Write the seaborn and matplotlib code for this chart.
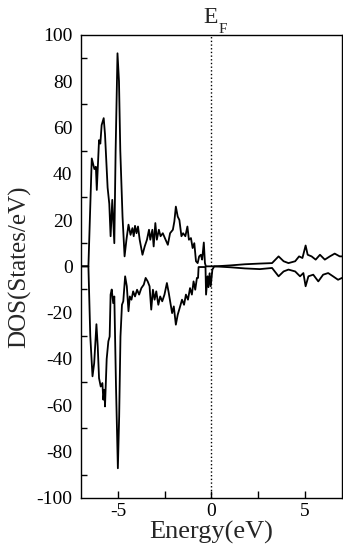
import matplotlib
matplotlib.use("Agg")
import matplotlib.pyplot as plt
import numpy as np
import seaborn as sns
from matplotlib.ticker import MultipleLocator

# spin-up DOS (energy in eV, states/eV)
up_energy = [-7.0, -6.6, -6.42, -6.28, -6.2, -6.15, -6.03, -5.96, -5.89, -5.78, -5.71, -5.57,
             -5.48, -5.41, -5.32, -5.21, -5.14, -5.04, -4.96, -4.89, -4.77, -4.66, -4.56, -4.45,
             -4.34, -4.24, -4.17, -4.1, -4.02, -3.94, -3.85, -3.7, -3.58, -3.46, -3.35, -3.28,
             -3.17, -3.1, -3.01, -2.93, -2.82, -2.73, -2.61, -2.46, -2.34, -2.22, -2.07, -1.99,
             -1.91, -1.81, -1.72, -1.61, -1.52, -1.4, -1.29, -1.21, -1.1, -1.01, -0.92, -0.83,
             -0.74, -0.66, -0.57, -0.5, -0.41, -0.35, -0.3, 0.2, 1.0, 1.8, 2.6, 3.25, 3.6,
             3.87, 4.13, 4.49, 4.7, 4.88, 5.05, 5.16, 5.37, 5.59, 5.82, 6.08, 6.35, 6.61, 6.88, 7.0]
up_dos = [0, 0, 46.6, 42, 43, 33, 54.5, 53, 61, 64, 57, 34,
          27, 13, 28.7, 10, 50, 92, 80, 50, 21.5, 4.3, 11.5, 18,
          13.6, 16.5, 13, 17.5, 14.3, 17.2, 11.5, 5, 8.6, 11.5, 15.8, 11.5,
          15.8, 8.6, 18.7, 11.5, 15.8, 13, 14.3, 11.5, 9.3, 14.3, 15.8, 19.4,
          25.8, 21.5, 20, 13, 14.3, 13, 17.2, 11.5, 12.2, 7.9, 10, 2.2,
          1.4, 4.3, 5, 2.9, 10.3, 1.4, 0, 0, 0.4, 0.9, 1.2, 1.4, 4.3,
          2.2, 1.4, 2.2, 4.3, 3.6, 9, 5, 4.3, 2.9, 5, 2.9, 4.3, 5.5, 4.3, 4.3]

# spin-down DOS
down_energy = [-7.0, -6.6, -6.5, -6.38, -6.29, -6.17, -6.1, -6.03, -5.94, -5.85, -5.8, -5.74,
               -5.71, -5.62, -5.53, -5.46, -5.41, -5.35, -5.27, -5.21, -5.12, -5.02, -4.95,
               -4.88, -4.8, -4.73, -4.63, -4.54, -4.45, -4.38, -4.29, -4.2, -4.1, -3.99, -3.88,
               -3.76, -3.63, -3.53, -3.42, -3.32, -3.23, -3.14, -3.05, -2.96, -2.85, -2.75,
               -2.64, -2.52, -2.39, -2.29, -2.2, -2.11, -2.02, -1.91, -1.81, -1.68, -1.58,
               -1.47, -1.37, -1.26, -1.15, -1.05, -0.96, -0.87, -0.78, -0.72, -0.69, -0.32,
               -0.29, -0.21, -0.16, -0.1, -0.04, 0.05, 0.15, 1.0, 1.8, 2.6, 3.25, 3.6, 3.87,
               4.13, 4.49, 4.75, 4.93, 5.05, 5.2, 5.46, 5.73, 5.99, 6.26, 6.52, 6.79, 7.0]
down_dos = [0, 0, -30, -47.5, -41.8, -25, -34.5, -48.3, -51.9, -50.4, -57.6, -53.3,
            -60.5, -40, -32.4, -30.3, -12.2, -10, -15.9, -13, -51.9, -87.2, -64.8,
            -30.3, -16.6, -15.1, -4.3, -8.6, -19.4, -13, -14.4, -10.8, -13, -10.1, -12.2,
            -9.4, -7.9, -5, -6.5, -8.6, -18.7, -10.1, -14.4, -10.8, -16.6, -13,
            -15.1, -12.2, -7.2, -11.5, -15.9, -20.2, -17.3, -25.2, -20.9, -17.3, -14.4,
            -16.6, -12.2, -14.4, -9.4, -12.2, -6.5, -10.1, -5, -5, -0.3, -0.3,
            -12.2, -4.3, -9, -3, -8.6, -1.4, 0, -0.4, -0.9, -1.2, -0.7, -4.3, -2.2,
            -1.4, -2.2, -4.3, -2.9, -8.6, -4.3, -3.6, -6.5, -3.6, -2.9, -4.3, -5.8, -5]

x_major = [-5, 0, 5]
y_major = [-100, -80, -60, -40, -20, 0, 20, 40, 60, 80, 100]

sns.set_style("ticks")
plt.rcParams["font.family"] = ["Liberation Serif", "DejaVu Serif"]
plt.rcParams["axes.unicode_minus"] = False

fig = plt.figure(figsize=(3.43, 5.52), dpi=100)
ax = fig.add_axes([0.236, 0.098, 0.761, 0.839])

sns.lineplot(x=up_energy, y=up_dos, color="black", linewidth=1.3, estimator=None, sort=False, ax=ax)
sns.lineplot(x=down_energy, y=down_dos, color="black", linewidth=1.3, estimator=None, sort=False, ax=ax)
ax.axvline(0, color="black", linestyle=":", linewidth=1.0)

ax.set_xlim(-7, 7)
ax.set_ylim(-100, 100)
ax.set_xticks(x_major)
ax.set_yticks(y_major)
ax.xaxis.set_minor_locator(MultipleLocator(2.5))
ax.yaxis.set_minor_locator(MultipleLocator(10))
ax.tick_params(axis="both", which="both", direction="in", labelsize=14, colors="black")
ax.tick_params(axis="x", which="both", length=5, width=1, top=False, pad=4)
ax.tick_params(axis="y", which="major", length=0, pad=6)
ax.tick_params(axis="y", which="minor", length=4, width=1)
for s in ax.spines.values():
    s.set_color("black")
    s.set_linewidth(1.0)

ax.set_xlabel("Energy(eV)", fontsize=19, labelpad=0)
ax.set_ylabel("DOS(States/eV)", fontsize=18, labelpad=4)

# Fermi level label: E with a lowered subscript F
ax.annotate("E", xy=(0, 100), xycoords="data", xytext=(-1, 5), textcoords="offset points",
            fontsize=17, ha="center", va="bottom", annotation_clip=False)
ax.annotate("F", xy=(0, 100), xycoords="data", xytext=(8, -1), textcoords="offset points",
            fontsize=11, ha="center", va="bottom", annotation_clip=False)

fig.savefig("out.png", dpi=100)
